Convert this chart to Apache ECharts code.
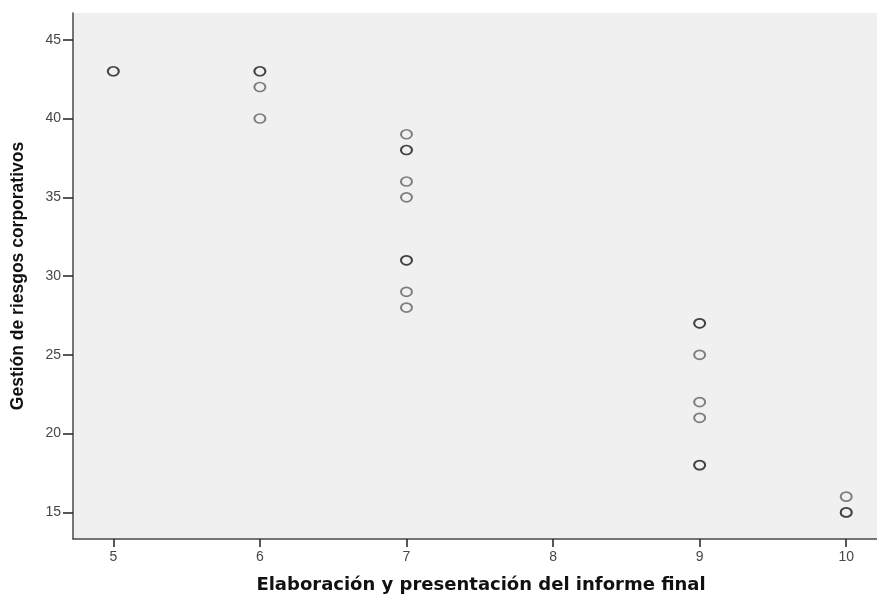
<!DOCTYPE html>
<html>
<head>
<meta charset="utf-8">
<script src="https://cdn.jsdelivr.net/npm/echarts@6/dist/echarts.min.js"></script>
<style>
  html, body { margin: 0; padding: 0; background: #ffffff; }
  #chart { width: 877px; height: 599px; }
</style>
</head>
<body>
<div id="chart"></div>
<script>
// Observations: informe final score (x) vs. gestión de riesgos score (y).
// Repeated pairs are listed once per case so overlapping rings darken.
const informeFinal = [5, 5, 6, 6, 6, 6, 7, 7, 7, 7, 7, 7, 7, 7, 7, 9, 9, 9, 9, 9, 9, 9, 10, 10, 10];
const gestionRiesgos = [43, 43, 43, 43, 42, 40, 39, 38, 38, 36, 35, 31, 31, 29, 28, 27, 27, 25, 22, 21, 18, 18, 16, 15, 15];

const xTicks = [5, 6, 7, 8, 9, 10];
const yTicks = [15, 20, 25, 30, 35, 40, 45];

const xTitle = 'Elaboración y presentación del informe final';
const yTitle = 'Gestión de riesgos corporativos';

const points = informeFinal.map((x, i) => [x, gestionRiesgos[i]]);

const chart = echarts.init(document.getElementById('chart'), null, { renderer: 'canvas' });

const axisLineStyle = { color: '#4a4a4a', width: 1.5 };
const labelStyle = { color: '#474747', fontFamily: 'Liberation Sans, Arial, sans-serif', fontSize: 14 };

chart.setOption({
  backgroundColor: '#ffffff',
  animation: false,
  grid: {
    left: 73, top: 13, right: 0, bottom: 57,
    show: true, backgroundColor: '#f0f0f0', borderWidth: 0
  },
  xAxis: {
    type: 'value',
    min: 4.725, max: 10.21,
    splitLine: { show: false },
    axisLine: { show: true, onZero: false, lineStyle: axisLineStyle },
    axisTick: { show: true, length: 8, lineStyle: { color: '#222', width: 1.5 }, customValues: xTicks },
    axisLabel: Object.assign({ margin: 11, customValues: xTicks }, labelStyle),
    name: xTitle,
    nameLocation: 'middle',
    nameGap: 37,
    nameTextStyle: {
      color: '#111', fontFamily: 'DejaVu Sans, Verdana, sans-serif', fontWeight: 'bold', fontSize: 18,
      padding: [0, 0, 0, 12]
    }
  },
  yAxis: {
    type: 'value',
    min: 13.31, max: 46.7,
    splitLine: { show: false },
    axisLine: { show: true, onZero: false, lineStyle: axisLineStyle },
    axisTick: { show: true, length: 10, lineStyle: { color: '#222', width: 1.5 }, customValues: yTicks },
    axisLabel: Object.assign({ margin: 12, customValues: yTicks }, labelStyle),
    name: yTitle,
    nameLocation: 'middle',
    nameGap: 46,
    nameTextStyle: { color: '#111', fontFamily: 'Liberation Sans, Arial, sans-serif', fontWeight: 'bold', fontSize: 17.5 }
  },
  series: [{
    type: 'scatter',
    data: points,
    symbol: 'circle',
    symbolSize: [11, 9],
    itemStyle: {
      color: 'rgba(0,0,0,0)',
      borderColor: 'rgba(0,0,0,0.6)',
      borderWidth: 1.8
    },
    emphasis: { disabled: true }
  }]
});
</script>
</body>
</html>
